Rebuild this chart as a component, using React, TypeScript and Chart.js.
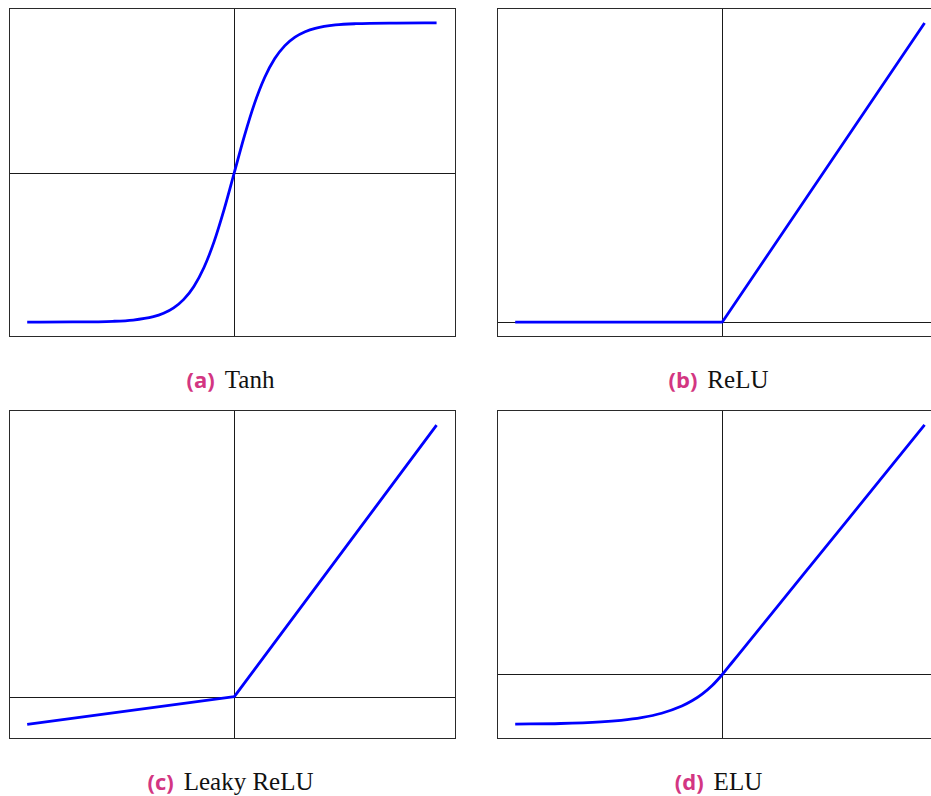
import React, { useEffect, useRef } from 'react';
import { Chart, registerables } from 'chart.js';

Chart.register(...registerables);

// ---- data ----
const tanhX = [-5.12, -4, -3, -2.5, -2, -1.75, -1.5, -1.25, -1, -0.75, -0.5, -0.25, 0, 0.25, 0.5, 0.75, 1, 1.25, 1.5, 1.75, 2, 2.5, 3, 4, 5];
const tanhY = [-1.0, -0.9993, -0.9951, -0.9866, -0.964, -0.9414, -0.9051, -0.8483, -0.7616, -0.6351, -0.4621, -0.2449, 0, 0.2449, 0.4621, 0.6351, 0.7616, 0.8483, 0.9051, 0.9414, 0.964, 0.9866, 0.9951, 0.9993, 1.0];

const reluX = [-5.12, 0, 5];
const reluY = [0, 0, 5];

const leakyX = [-5.12, 0, 5];
const leakyY = [-0.51, 0, 5];

const eluX = [-5.12, -4, -3, -2.5, -2, -1.5, -1, -0.75, -0.5, -0.25, 0, 0.25, 1, 2, 3, 4, 5];
const eluY = [-0.994, -0.982, -0.95, -0.918, -0.865, -0.777, -0.632, -0.528, -0.393, -0.221, 0, 0.25, 1, 2, 3, 4, 5];

const captionTags = ['(a)', '(b)', '(c)', '(d)'];
const captionNames = ['Tanh', 'ReLU', 'Leaky ReLU', 'ELU'];

const xRange = [-5.57, 5.48];
const yRanges = [
  [-1.1, 1.1],
  [-0.25, 5.25],
  [-0.78, 5.28],
  [-1.293, 5.3],
];

const seriesX = [tanhX, reluX, leakyX, eluX];
const seriesY = [tanhY, reluY, leakyY, eluY];
const smooth = [true, false, false, true];

// ---- layout ----
const PW = 447;
const PH = 329;
const panelPos = [
  { left: 9, top: 8 },
  { left: 497, top: 8 },
  { left: 9, top: 410 },
  { left: 497, top: 410 },
];

const framePlugin = {
  id: 'frameAxes',
  beforeDatasetsDraw(chart: any) {
    const { ctx, chartArea: a, scales } = chart;
    const xs = scales.x;
    const ys = scales.y;
    ctx.save();
    ctx.lineWidth = 1;
    ctx.strokeStyle = '#1a1a1a';
    const x0 = Math.round(xs.getPixelForValue(0)) + 0.5;
    const y0 = Math.round(ys.getPixelForValue(0)) + 0.5;
    ctx.beginPath();
    ctx.moveTo(x0, a.top);
    ctx.lineTo(x0, a.bottom);
    ctx.moveTo(a.left, y0);
    ctx.lineTo(a.right, y0);
    ctx.stroke();
    ctx.strokeStyle = '#2a2a2a';
    ctx.strokeRect(a.left + 0.5, a.top + 0.5, a.width - 1, a.height - 1);
    ctx.restore();
  },
};

function Panel({ idx }: { idx: number }) {
  const ref = useRef<HTMLCanvasElement | null>(null);
  useEffect(() => {
    if (!ref.current) return;
    const xs = seriesX[idx];
    const ys = seriesY[idx];
    const chart = new Chart(ref.current, {
      type: 'line',
      data: {
        datasets: [
          {
            data: xs.map((x, i) => ({ x, y: ys[i] })),
            borderColor: '#0000ff',
            borderWidth: 2.8,
            pointRadius: 0,
            fill: false,
            tension: 0,
            cubicInterpolationMode: smooth[idx] ? 'monotone' : 'default',
            borderCapStyle: 'butt',
            borderJoinStyle: 'round',
          } as any,
        ],
      },
      options: {
        responsive: false,
        animation: false,
        devicePixelRatio: 1,
        events: [],
        layout: { padding: 0 },
        plugins: { legend: { display: false }, tooltip: { enabled: false }, title: { display: false } },
        scales: {
          x: { type: 'linear', min: xRange[0], max: xRange[1], display: false },
          y: { type: 'linear', min: yRanges[idx][0], max: yRanges[idx][1], display: false },
        },
      },
      plugins: [framePlugin],
    });
    return () => chart.destroy();
  }, [idx]);
  const p = panelPos[idx];
  return (
    <>
      <canvas
        ref={ref}
        width={PW}
        height={PH}
        style={{ position: 'absolute', left: p.left, top: p.top, width: PW, height: PH }}
      />
      <div
        style={{
          position: 'absolute',
          left: p.left - 2,
          top: p.top + PH + 27,
          width: PW,
          textAlign: 'center',
          lineHeight: '30px',
          whiteSpace: 'nowrap',
        }}
      >
        <span
          style={{
            fontFamily: '"Open Sans", sans-serif',
            fontWeight: 700,
            fontSize: 22,
            color: '#d33682',
            marginRight: 10,
          }}
        >
          {captionTags[idx]}
        </span>
        <span style={{ fontFamily: '"Liberation Serif", serif', fontSize: 25, color: '#111' }}>
          {captionNames[idx]}
        </span>
      </div>
    </>
  );
}

export default function App() {
  return (
    <div style={{ position: 'absolute', left: 0, top: 0, width: 960, height: 796, background: '#fff', overflow: 'hidden' }}>
      {[0, 1, 2, 3].map((i) => (
        <Panel key={i} idx={i} />
      ))}
    </div>
  );
}
